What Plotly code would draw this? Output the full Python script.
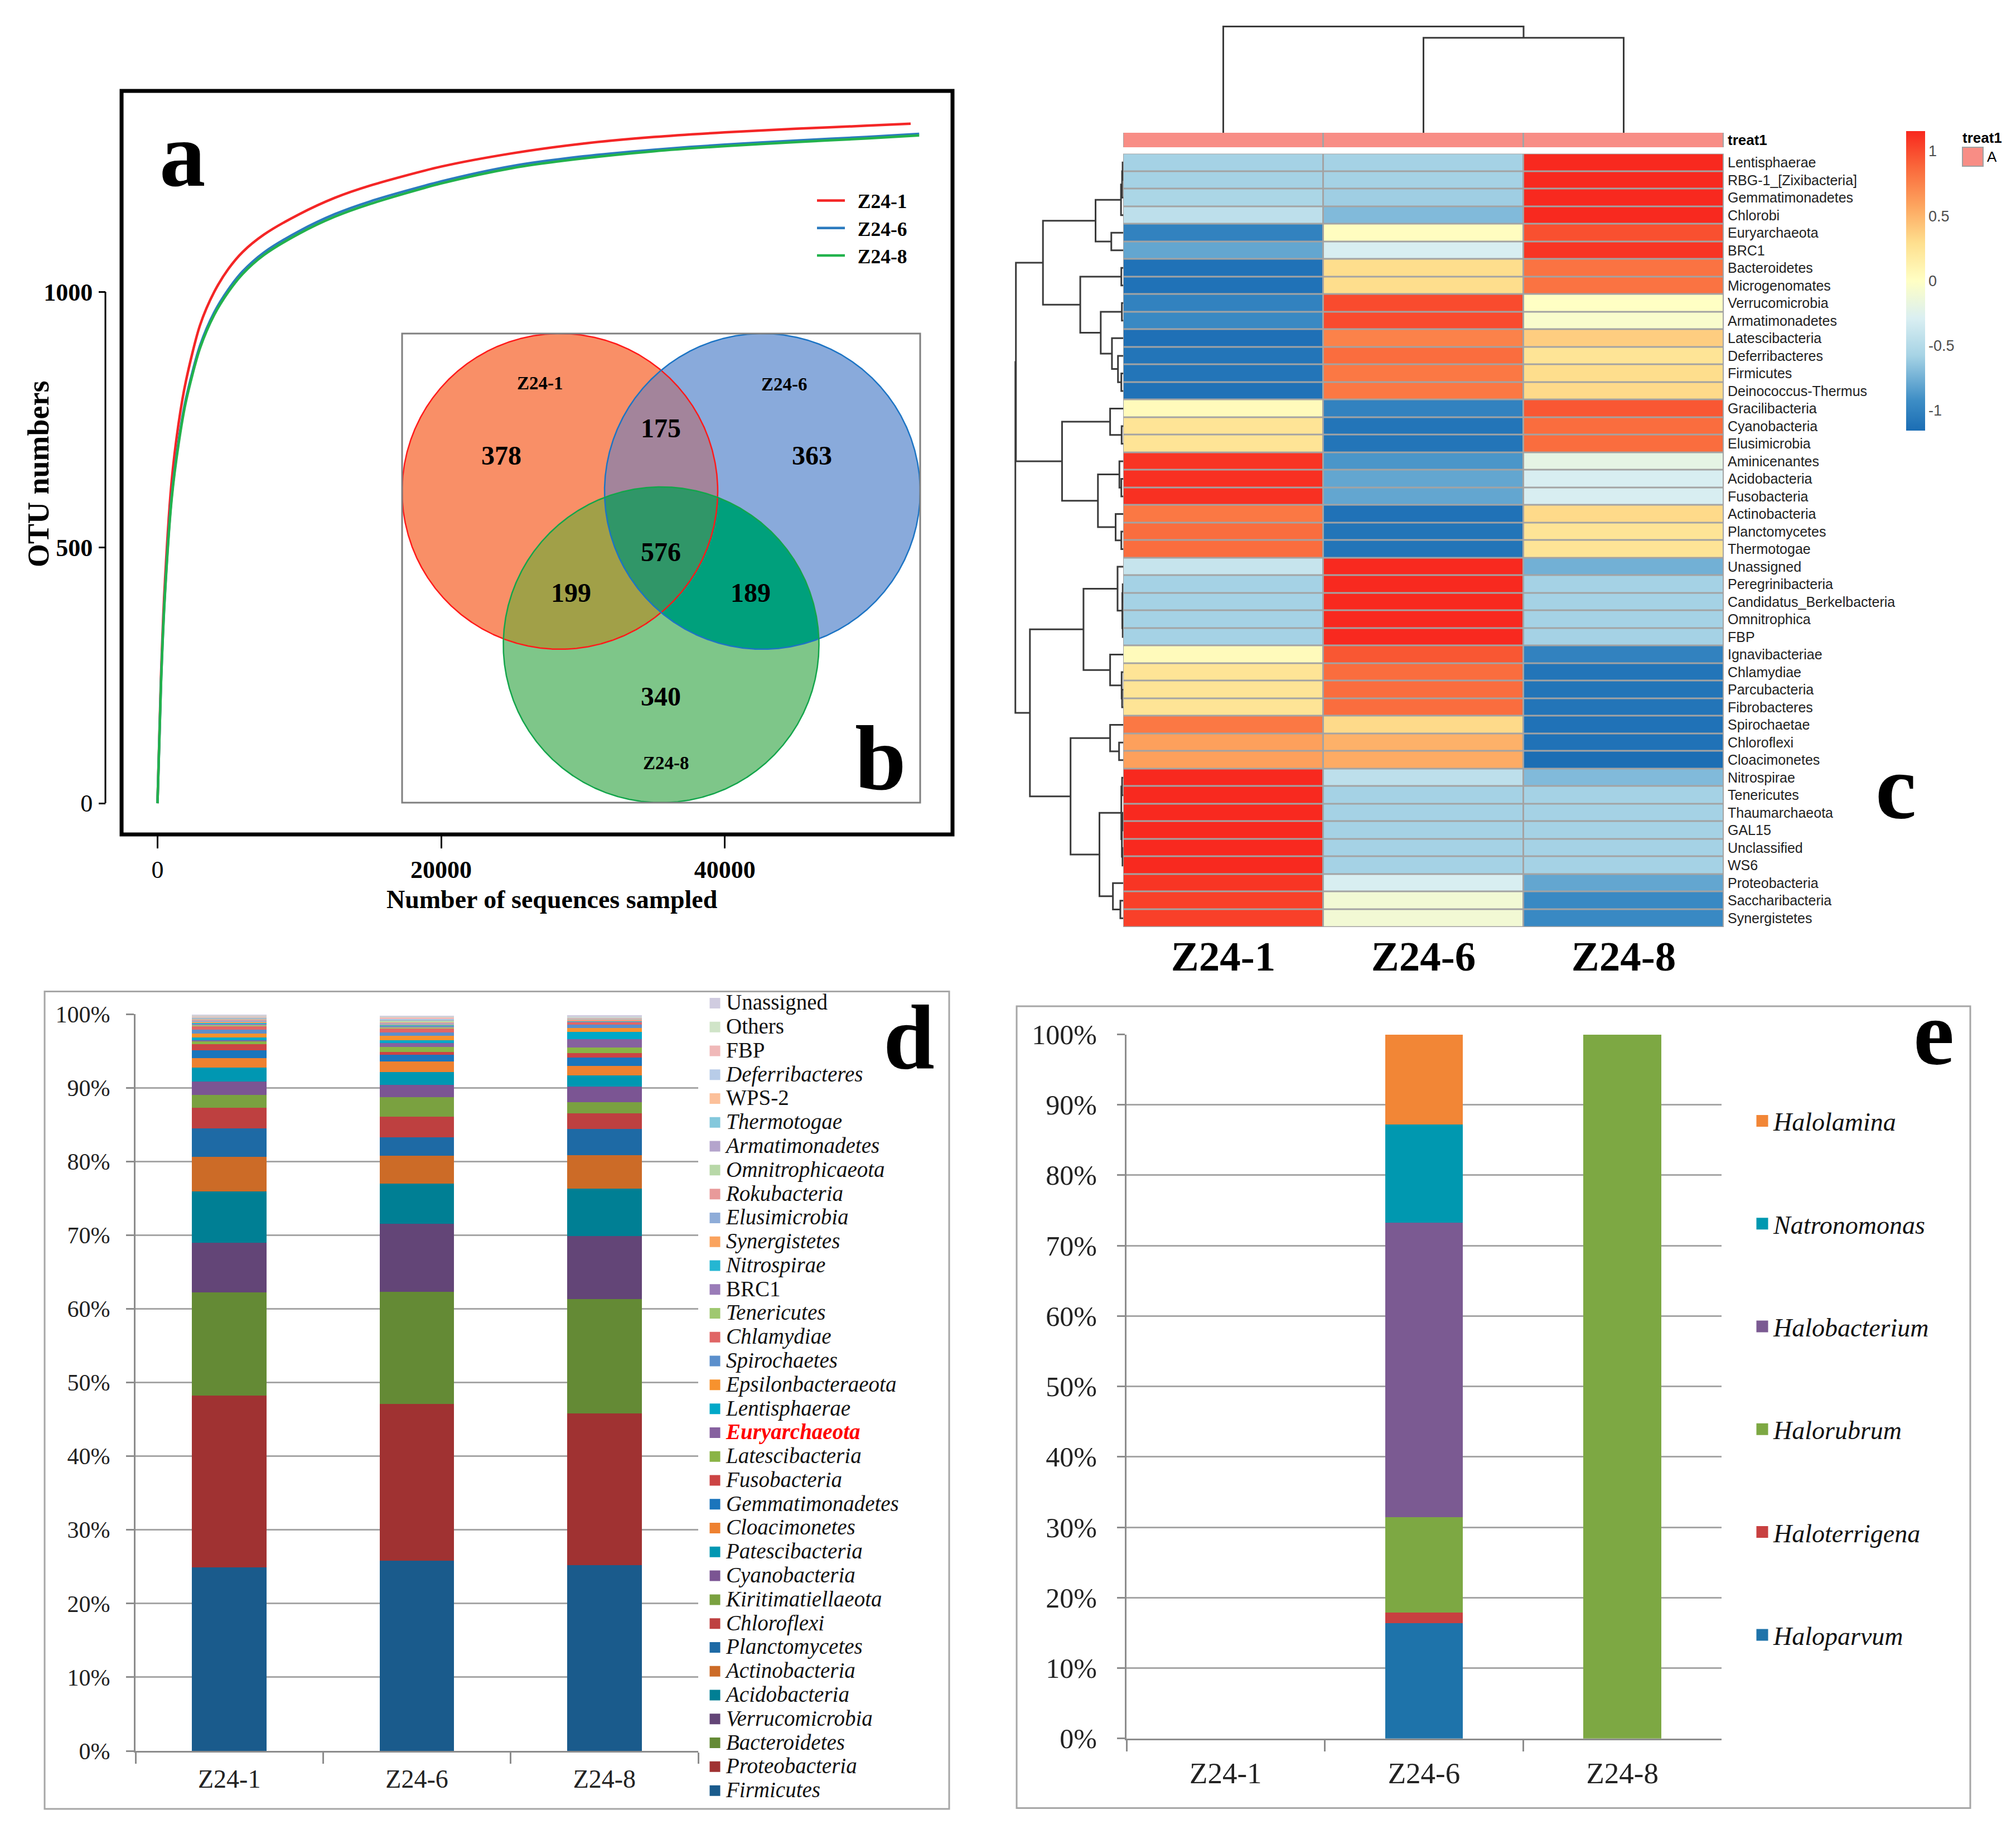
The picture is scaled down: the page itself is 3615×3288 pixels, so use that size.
import numpy as np
import plotly.graph_objects as go

W, H = 3615, 3288
def fx(x): return x / W
def fy(y): return 1 - y / H

SERIF = "Liberation Serif, Times New Roman, serif"
SANS = "Liberation Sans, Arial, sans-serif"

samples = ["Z24-1", "Z24-6", "Z24-8"]

# ---------------- (a) rarefaction curves ----------------
rare_depth_z24_1 = [0, 250, 500, 1000, 1500, 2000, 3000, 4000, 5000, 6000, 7500, 10000, 12500, 15000, 20000, 25000, 30000, 35000, 40000, 45000, 50000, 53100]
rare_otu_z24_1 = [0, 250, 420, 630, 745, 825, 935, 1000, 1045, 1078, 1112, 1152, 1184, 1208, 1245, 1271, 1290, 1303, 1312, 1319, 1325, 1329]
rare_depth_z24_6 = [0, 250, 500, 1000, 1500, 2000, 3000, 4000, 5000, 6000, 7500, 10000, 12500, 15000, 20000, 25000, 30000, 35000, 40000, 45000, 50000, 53700]
rare_otu_z24_6 = [0, 238, 399, 600, 710, 790, 895, 960, 1005, 1040, 1077, 1119, 1152, 1177, 1216, 1246, 1265, 1278, 1288, 1296, 1303, 1309]
rare_depth_z24_8 = [0, 250, 500, 1000, 1500, 2000, 3000, 4000, 5000, 6000, 7500, 10000, 12500, 15000, 20000, 25000, 30000, 35000, 40000, 45000, 50000, 53700]
rare_otu_z24_8 = [0, 235, 395, 595, 705, 785, 890, 955, 1000, 1035, 1072, 1114, 1147, 1172, 1212, 1242, 1261, 1275, 1285, 1293, 1300, 1306]
rare_colors = ["#F42626", "#2B7BBF", "#22B24C"]

# ---------------- (b) Venn counts ----------------
venn_only = {"Z24-1": 378, "Z24-6": 363, "Z24-8": 340}
venn_pair = {"Z24-1&Z24-6": 175, "Z24-1&Z24-8": 199, "Z24-6&Z24-8": 189}
venn_all = 576

# ---------------- (c) heatmap (row z-scores) ----------------
heat_rows = ["Lentisphaerae", "RBG-1_[Zixibacteria]", "Gemmatimonadetes", "Chlorobi", "Euryarchaeota", "BRC1",
             "Bacteroidetes", "Microgenomates", "Verrucomicrobia", "Armatimonadetes", "Latescibacteria",
             "Deferribacteres", "Firmicutes", "Deinococcus-Thermus", "Gracilibacteria", "Cyanobacteria",
             "Elusimicrobia", "Aminicenantes", "Acidobacteria", "Fusobacteria", "Actinobacteria", "Planctomycetes",
             "Thermotogae", "Unassigned", "Peregrinibacteria", "Candidatus_Berkelbacteria", "Omnitrophica", "FBP",
             "Ignavibacteriae", "Chlamydiae", "Parcubacteria", "Fibrobacteres", "Spirochaetae", "Chloroflexi",
             "Cloacimonetes", "Nitrospirae", "Tenericutes", "Thaumarchaeota", "GAL15", "Unclassified", "WS6",
             "Proteobacteria", "Saccharibacteria", "Synergistetes"]
heat_z24_1 = [-0.58, -0.58, -0.55, -0.45, -1.0, -0.8, -1.12, -1.12, -1.0, -0.95, -1.13, -1.1, -1.1, -1.12,
              0.05, 0.25, 0.25, 1.1, 1.12, 1.12, 0.8, 0.85, 0.85, -0.4, -0.58, -0.58, -0.58, -0.58,
              0.05, 0.25, 0.25, 0.25, 0.8, 0.6, 0.6, 1.15, 1.15, 1.15, 1.15, 1.15, 1.15, 1.1, 1.05, 1.05]
heat_z24_6 = [-0.58, -0.58, -0.6, -0.7, 0.02, -0.3, 0.3, 0.3, 1.0, 1.0, 0.75, 0.85, 0.8, 0.8,
              -1.0, -1.1, -1.1, -0.88, -0.8, -0.8, -1.12, -1.1, -1.1, 1.15, 1.15, 1.15, 1.15, 1.15,
              0.95, 0.85, 0.85, 0.85, 0.32, 0.52, 0.55, -0.45, -0.58, -0.58, -0.58, -0.58, -0.58, -0.3, -0.1, -0.1]
heat_z24_8 = [1.15, 1.15, 1.15, 1.15, 0.98, 1.1, 0.82, 0.82, 0.0, -0.05, 0.38, 0.25, 0.3, 0.32,
              0.95, 0.85, 0.85, -0.2, -0.3, -0.3, 0.32, 0.25, 0.25, -0.75, -0.58, -0.58, -0.58, -0.58,
              -1.0, -1.1, -1.1, -1.1, -1.12, -1.12, -1.15, -0.7, -0.58, -0.58, -0.58, -0.58, -0.58, -0.8, -0.95, -0.95]
# clustering trees: (height, left, right); leaves = row / column index
row_tree = (1.0,
            (0.995,
             (0.744,
              (0.256, (0.02, (0.01, (0.005, 0, 1), 2), 3), (0.11, 4, 5)),
              (0.398, (0.017, 6, 7),
               (0.208, (0.012, 8, 9), (0.104, 10, (0.048, 11, (0.017, 12, 13)))))),
             (0.567,
              (0.121, 14, (0.014, 15, 16)),
              (0.234, (0.035, 17, (0.017, 18, 19)), (0.07, 20, (0.017, 21, 22))))),
            (0.865,
             (0.368,
              (0.052, 23, (0.008, (0.004, 24, 25), (0.004, 26, 27))),
              (0.121, 28, (0.014, 29, (0.01, 30, 31)))),
             (0.488,
              (0.121, 32, (0.038, 33, 34)),
              (0.22, (0.017, (0.01, 35, 36), (0.012, (0.006, 37, 38), (0.006, 39, 40))),
               (0.095, 41, (0.026, 42, 43))))))
col_tree = (1.0, 0, (0.894, 1, 2))
heat_colorscale = [[0.0, "#1B6DB4"], [0.1, "#3D8DC5"], [0.25, "#A6D3E5"], [0.375, "#DAEFF2"],
                   [0.5, "#FFFFC4"], [0.625, "#FEE08F"], [0.75, "#FDA55F"], [0.875, "#FA6A3C"], [1.0, "#F8281E"]]
cbar_ticks = [-1, -0.5, 0, 0.5, 1]

# ---------------- (d) phylum composition (%) ----------------
phyla = ["Firmicutes", "Proteobacteria", "Bacteroidetes", "Verrucomicrobia", "Acidobacteria", "Actinobacteria",
         "Planctomycetes", "Chloroflexi", "Kiritimatiellaeota", "Cyanobacteria", "Patescibacteria", "Cloacimonetes",
         "Gemmatimonadetes", "Fusobacteria", "Latescibacteria", "Euryarchaeota", "Lentisphaerae",
         "Epsilonbacteraeota", "Spirochaetes", "Chlamydiae", "Tenericutes", "BRC1", "Nitrospirae", "Synergistetes",
         "Elusimicrobia", "Rokubacteria", "Omnitrophicaeota", "Armatimonadetes", "Thermotogae", "WPS-2",
         "Deferribacteres", "FBP", "Others", "Unassigned"]
phyla_colors = ["#1A5B8C", "#A03232", "#648A35", "#634577", "#007F94", "#CC6B27", "#1E6AA5", "#BE4040",
                "#7AA140", "#7B5593", "#0097B2", "#EE8130", "#1B75BC", "#CC4444", "#8AB446", "#86619F",
                "#00A8C8", "#F7922E", "#5B8FCC", "#E06666", "#9FC870", "#9A7CB8", "#25B6D2", "#FAA35E",
                "#8EACD8", "#E89A9A", "#B8D8A8", "#B4A4CC", "#84C8DC", "#FCC09A", "#B8CCE8", "#F0B8B8",
                "#D0E4C8", "#D0CCE0"]
d_z24_1 = [24.9, 23.3, 14.0, 6.8, 6.9, 4.7, 3.9, 2.8, 1.7, 1.85, 1.85, 1.3, 1.05, 0.85, 0.4, 0.15, 0.4, 0.5,
           0.55, 0.45, 0.2, 0.15, 0.15, 0.15, 0.15, 0.1, 0.1, 0.1, 0.07, 0.06, 0.06, 0.06, 0.08, 0.07]
d_z24_6 = [25.8, 21.3, 15.2, 9.2, 5.5, 3.8, 2.45, 2.8, 2.65, 1.7, 1.75, 1.42, 0.88, 0.43, 0.66, 0.51, 0.38, 0.63,
           0.44, 0.6, 0.15, 0.15, 0.1, 0.1, 0.1, 0.2, 0.2, 0.1, 0.05, 0.05, 0.05, 0.25, 0.08, 0.07]
d_z24_8 = [25.2, 20.6, 15.5, 8.6, 6.4, 4.54, 3.53, 2.14, 1.52, 2.14, 1.51, 1.26, 1.14, 0.63, 0.75, 1.14, 1.0, 0.5,
           0.46, 0.31, 0.06, 0.07, 0.05, 0.05, 0.05, 0.15, 0.05, 0.05, 0.05, 0.05, 0.05, 0.05, 0.05, 0.2]
upright_names = {"BRC1", "WPS-2", "FBP", "Others", "Unassigned"}

# ---------------- (e) Euryarchaeota genera (%) ----------------
genera = ["Haloparvum", "Haloterrigena", "Halorubrum", "Halobacterium", "Natronomonas", "Halolamina"]
genera_colors = ["#1E73AA", "#C84040", "#7DA843", "#7B5A92", "#0098B0", "#F28636"]
e_z24_1 = [0, 0, 0, 0, 0, 0]
e_z24_6 = [16.4, 1.5, 13.5, 41.9, 13.9, 12.8]
e_z24_8 = [0, 0, 100, 0, 0, 0]

fig = go.Figure()

# ===== panel a =====
for name, xs, ys, col in zip(samples, [rare_depth_z24_1, rare_depth_z24_6, rare_depth_z24_8],
                             [rare_otu_z24_1, rare_otu_z24_6, rare_otu_z24_8], rare_colors):
    fig.add_trace(go.Scatter(x=xs, y=ys, mode="lines", name=f"&nbsp;&nbsp;<b>{name}</b>",
                             line=dict(color=col, width=4.5, shape="spline", smoothing=0.8),
                             xaxis="x", yaxis="y", legend="legend"))

# ===== panel b (Venn) =====
VENN_R = 283
VENN_C = {"Z24-1": (1004, 881), "Z24-6": (1367, 881), "Z24-8": (1185.5, 1156)}
def circle_pts(c, n=1440):
    t = np.linspace(0, 2 * np.pi, n, endpoint=False)
    return np.c_[c[0] + VENN_R * np.cos(t), c[1] + VENN_R * np.sin(t)]
def region(keys):
    parts = []
    for k in keys:
        P = circle_pts(VENN_C[k])
        m = np.ones(len(P), bool)
        for j in keys:
            if j != k:
                c = VENN_C[j]
                m &= (P[:, 0] - c[0]) ** 2 + (P[:, 1] - c[1]) ** 2 <= VENN_R ** 2 * 1.0001
        parts.append(P[m])
    P = np.vstack(parts)
    ctr = P.mean(0)
    P = P[np.argsort(np.arctan2(P[:, 1] - ctr[1], P[:, 0] - ctr[0]))]
    return np.vstack([P, P[:1]])
venn_fill = [(["Z24-1"], "#F98F67"), (["Z24-6"], "#89AADB"), (["Z24-8"], "#7EC689"),
             (["Z24-1", "Z24-6"], "#A3849B"), (["Z24-1", "Z24-8"], "#A1A048"),
             (["Z24-6", "Z24-8"], "#00A07C"), (["Z24-1", "Z24-6", "Z24-8"], "#309668")]
for keys, col in venn_fill:
    P = region(keys)
    fig.add_trace(go.Scatter(x=P[:, 0], y=P[:, 1], mode="lines", fill="toself", fillcolor=col,
                             line=dict(width=0, color=col), showlegend=False, hoverinfo="skip",
                             xaxis="x2", yaxis="y2"))
for k, col in zip(samples, ["#FF1A1A", "#1C74C4", "#13A54B"]):
    P = circle_pts(VENN_C[k]); P = np.vstack([P, P[:1]])
    fig.add_trace(go.Scatter(x=P[:, 0], y=P[:, 1], mode="lines", line=dict(color=col, width=2.5),
                             showlegend=False, hoverinfo="skip", xaxis="x2", yaxis="y2"))

# ===== panel c (heatmap + dendrograms) =====
zmat = np.array([heat_z24_1, heat_z24_6, heat_z24_8]).T
fig.add_trace(go.Heatmap(z=zmat, x=[0, 1, 2], y=list(range(len(heat_rows))), colorscale=heat_colorscale,
                         zmin=-1.155, zmax=1.155, xgap=3, ygap=3, xaxis="x3", yaxis="y3",
                         colorbar=dict(x=fx(3418), xanchor="left", y=fy(503.5), yanchor="middle",
                                       len=537, lenmode="pixels", thickness=34, thicknessmode="pixels",
                                       tickvals=cbar_ticks, ticktext=[str(v) for v in cbar_ticks],
                                       ticks="", outlinewidth=0, xpad=0, ypad=0,
                                       tickfont=dict(family=SANS, size=27, color="#4D4D4D"))))
fig.add_trace(go.Heatmap(z=[[1, 1, 1]], x=[0, 1, 2], y=[0], colorscale=[[0, "#F88D85"], [1, "#F88D85"]],
                         showscale=False, xgap=3, ygap=0, xaxis="x4", yaxis="y4", hoverinfo="skip"))

def dendro(node, xs, ys, horizontal):
    if isinstance(node, int):
        return float(node), 0.0
    h, left, right = node
    p1, h1 = dendro(left, xs, ys, horizontal)
    p2, h2 = dendro(right, xs, ys, horizontal)
    if horizontal:
        xs += [h1, h, h, h2, None]; ys += [p1, p1, p2, p2, None]
    else:
        xs += [p1, p1, p2, p2, None]; ys += [h1, h, h, h2, None]
    return (p1 + p2) / 2, h

rx, ry = [], []
dendro(row_tree, rx, ry, True)
fig.add_trace(go.Scatter(x=rx, y=ry, mode="lines", line=dict(color="#3A3A3A", width=3), showlegend=False,
                         hoverinfo="skip", cliponaxis=False, xaxis="x6", yaxis="y6"))
cx, cy = [], []
dendro(col_tree, cx, cy, False)
fig.add_trace(go.Scatter(x=cx, y=cy, mode="lines", line=dict(color="#3A3A3A", width=3), showlegend=False,
                         hoverinfo="skip", cliponaxis=False, xaxis="x5", yaxis="y5"))

# ===== panel d =====
for name, col, a1, a6, a8 in zip(phyla, phyla_colors, d_z24_1, d_z24_6, d_z24_8):
    fig.add_trace(go.Bar(x=samples, y=[a1, a6, a8], marker=dict(color=col, line=dict(width=0)),
                         width=0.398, showlegend=False, xaxis="x7", yaxis="y7"))
for name, col in zip(phyla, phyla_colors):
    if name == "Euryarchaeota":
        label = f'<span style="font-size:39px;color:#FF0000"><b><i>{name}</i></b></span>'
    elif name in upright_names:
        label = f'<span style="font-size:39px">{name}</span>'
    else:
        label = f'<span style="font-size:39px"><i>{name}</i></span>'
    fig.add_trace(go.Scatter(x=[None], y=[None], mode="markers", name=label,
                             marker=dict(symbol="square", size=16, color=col, line=dict(color=col, width=3)),
                             xaxis="x7", yaxis="y7", legend="legend2"))

# ===== panel e =====
for name, col, a1, a6, a8 in zip(genera, genera_colors, e_z24_1, e_z24_6, e_z24_8):
    fig.add_trace(go.Bar(x=samples, y=[a1, a6, a8], marker=dict(color=col, line=dict(width=0)),
                         width=0.393, showlegend=False, xaxis="x8", yaxis="y8"))
# legend entries listed top (last stacked) to bottom (first stacked)
for name, col in list(zip(genera, genera_colors))[::-1]:
    fig.add_trace(go.Scatter(x=[None], y=[None], mode="markers", name=f"<i>{name}</i>", legendgroup=name,
                             marker=dict(symbol="square", size=16, color=col, line=dict(color=col, width=5)),
                             xaxis="x8", yaxis="y8", legend="legend3"))

# ===== axes =====
def hid(**kw):
    d = dict(visible=False, showgrid=False, zeroline=False, fixedrange=True)
    d.update(kw)
    return d

excel_x = dict(type="category", showline=True, linecolor="#8C8C8C", linewidth=3, ticks="outside",
               tickson="boundaries", ticklen=20, tickwidth=3, tickcolor="#8C8C8C", showgrid=False,
               zeroline=False, range=[-0.5, 2.5], categoryorder="array", categoryarray=samples)
excel_y = dict(range=[0, 100], dtick=10, ticksuffix="%", showline=True, linecolor="#8C8C8C", linewidth=3,
               ticks="outside", ticklen=14, tickwidth=3, tickcolor="#8C8C8C", showgrid=True,
               gridcolor="#A6A6A6", gridwidth=3, zeroline=False)

HX = [fx(2014), fx(3091)]
HY = [fy(1662), fy(275.5)]
fig.update_layout(
    width=W, height=H, margin=dict(l=0, r=0, t=0, b=0, autoexpand=False),
    paper_bgcolor="white", plot_bgcolor="white", barmode="stack",
    xaxis=dict(domain=[fx(218), fx(1708)], range=[-2532, 56050], anchor="y", showgrid=False, zeroline=False,
               showline=False, ticks="outside", ticklen=24, tickwidth=3, tickcolor="black",
               tickvals=[0, 20000, 40000], ticktext=["0", "<b>20000</b>", "<b>40000</b>"],
               tickfont=dict(family=SERIF, size=44, color="black"), ticklabelstandoff=0),
    yaxis=dict(domain=[fy(1496), fy(163)], range=[-61, 1393], anchor="free", position=fx(189),
               showgrid=False, zeroline=False, showline=False, ticks="outside", ticklen=12, tickwidth=3,
               tickcolor="black", tickvals=[0, 500, 1000], ticktext=["0", "<b>500</b>", "<b>1000</b>"],
               tickfont=dict(family=SERIF, size=44, color="black"), ticklabelstandoff=2),
    xaxis2=hid(domain=[fx(721), fx(1650)], range=[721, 1650], anchor="y2"),
    yaxis2=hid(domain=[fy(1439), fy(598)], range=[1439, 598], anchor="x2"),
    xaxis3=dict(domain=HX, range=[-0.5, 2.5], anchor="y3", tickvals=[0, 1, 2],
                ticktext=[f"<b>{s}</b>" for s in samples], ticks="", showgrid=False, zeroline=False,
                showline=False, tickfont=dict(family=SERIF, size=75, color="black"), ticklabelstandoff=2),
    yaxis3=dict(domain=HY, range=[len(heat_rows) - 0.5, -0.5], anchor="x3", side="right",
                tickvals=list(range(len(heat_rows))), ticktext=heat_rows, ticks="", showgrid=False,
                zeroline=False, showline=False, tickfont=dict(family=SANS, size=25, color="#222222"),
                ticklabelstandoff=6),
    xaxis4=hid(domain=HX, range=[-0.5, 2.5], anchor="y4"),
    yaxis4=dict(domain=[fy(264), fy(238)], range=[-0.5, 0.5], anchor="x4", side="right", tickvals=[0],
                ticktext=["<b>treat1</b>"], ticks="", showgrid=False, zeroline=False, showline=False,
                tickfont=dict(family=SANS, size=26, color="black"), ticklabelstandoff=6),
    xaxis5=hid(domain=HX, range=[-0.5, 2.5], anchor="y5"),
    yaxis5=hid(domain=[fy(238), fy(44)], range=[0, 1.019], anchor="x5"),
    xaxis6=hid(domain=[fx(1818), fx(2014)], range=[1.014, 0], anchor="y6"),
    yaxis6=hid(domain=HY, range=[len(heat_rows) - 0.5, -0.5], anchor="x6"),
    xaxis7=dict(excel_x, domain=[fx(243), fx(1252)], anchor="y7",
                tickfont=dict(family=SERIF, size=46, color="#222222"), ticklabelstandoff=8),
    yaxis7=dict(excel_y, domain=[fy(3139), fy(1818)], anchor="x7",
                tickfont=dict(family=SERIF, size=42, color="#222222"), ticklabelstandoff=20),
    xaxis8=dict(excel_x, domain=[fx(2020), fx(3087)], anchor="y8",
                tickfont=dict(family=SERIF, size=53, color="#222222"), ticklabelstandoff=14),
    yaxis8=dict(excel_y, domain=[fy(3116.7), fy(1854.5)], anchor="x8",
                tickfont=dict(family=SERIF, size=50, color="#222222"), ticklabelstandoff=26),
    legend=dict(x=fx(1460), y=fy(330), xanchor="left", yanchor="top", bgcolor="rgba(0,0,0,0)",
                font=dict(family=SERIF, size=35.5, color="black"), itemwidth=50, traceorder="normal"),
    legend2=dict(x=fx(1262), y=fy(1772), xanchor="left", yanchor="top", bgcolor="rgba(0,0,0,0)",
                 font=dict(family=SERIF, size=30.6, color="#111111"), traceorder="reversed", itemwidth=30),
    legend3=dict(x=fx(3140), y=fy(1973), xanchor="left", yanchor="top", bgcolor="rgba(0,0,0,0)",
                 font=dict(family=SERIF, size=46, color="#111111"), traceorder="grouped",
                 tracegroupgap=121.5, itemwidth=30),
)

# ===== frames, boxes =====
shapes = [
    dict(type="rect", xref="paper", yref="paper", x0=fx(218), x1=fx(1708), y0=fy(1496), y1=fy(163),
         line=dict(color="black", width=7)),
    dict(type="line", xref="paper", yref="y", x0=fx(189), x1=fx(189), y0=0, y1=1000,
         line=dict(color="black", width=3)),
    dict(type="rect", xref="paper", yref="paper", x0=fx(721), x1=fx(1650), y0=fy(1439), y1=fy(598),
         line=dict(color="#7F7F7F", width=3)),
    dict(type="rect", xref="paper", yref="paper", x0=HX[0], x1=HX[1], y0=HY[0], y1=HY[1], layer="below",
         fillcolor="#A3A3A3", line=dict(width=0)),
    dict(type="rect", xref="paper", yref="paper", x0=HX[0], x1=HX[1], y0=fy(264), y1=fy(238), layer="below",
         fillcolor="#A3A3A3", line=dict(width=0)),
    dict(type="rect", xref="paper", yref="paper", x0=fx(80), x1=fx(1702), y0=fy(3243), y1=fy(1777.5),
         line=dict(color="#A6A6A6", width=3)),
    dict(type="rect", xref="paper", yref="paper", x0=fx(1823), x1=fx(3533), y0=fy(3241.5), y1=fy(1804),
         line=dict(color="#A6A6A6", width=3)),
    dict(type="rect", xref="paper", yref="paper", x0=fx(3519), x1=fx(3556), y0=fy(298), y1=fy(264),
         fillcolor="#F88D85", line=dict(color="#A0A0A0", width=2)),
]
fig.update_layout(shapes=shapes)

ann = []
def A(text, x, y, size, family=SERIF, color="black", xanchor="center", yanchor="middle", angle=0, **kw):
    d = dict(text=text, x=x, y=y, xref=kw.pop("xref", "paper"), yref=kw.pop("yref", "paper"),
             showarrow=False, xanchor=xanchor, yanchor=yanchor, textangle=angle,
             font=dict(family=family, size=size, color=color))
    d.update(kw)
    ann.append(d)

# panel letters
A("<b>a</b>", fx(327), fy(278), 165)
A("<b>b</b>", fx(1579), fy(1360), 165)
A("<b>c</b>", fx(3399), fy(1411), 165)
A("<b>d</b>", fx(1630), fy(1860), 165)
A("<b>e</b>", fx(3467), fy(1851), 165)
# axis titles of panel a
A("<b>OTU numbers</b>", fx(69), fy(850), 54, angle=-90)
A("<b>Number of sequences sampled</b>", fx(990), fy(1612), 46)
# Venn texts (placed in the Venn schematic's own frame)
venn_label_pos = {"Z24-1": (968, 687), "Z24-6": (1406, 689), "Z24-8": (1194, 1368)}
for k, (x, y) in venn_label_pos.items():
    A(f"<b>{k}</b>", x, y, 33, xref="x2", yref="y2")
venn_num_pos = [((899, 817), venn_only["Z24-1"]), ((1456, 817), venn_only["Z24-6"]),
                ((1185, 1248), venn_only["Z24-8"]), ((1185, 768), venn_pair["Z24-1&Z24-6"]),
                ((1024, 1062), venn_pair["Z24-1&Z24-8"]), ((1346, 1062), venn_pair["Z24-6&Z24-8"]),
                ((1185, 990), venn_all)]
for (x, y), v in venn_num_pos:
    A(f"<b>{v}</b>", x, y, 48, xref="x2", yref="y2")
# treat1 annotation legend
A("<b>treat1</b>", fx(3517), fy(247), 26, family=SANS, xanchor="left")
A("A", fx(3561), fy(281), 26, family=SANS, xanchor="left")
fig.update_layout(annotations=ann)

fig.write_html("out.html", config={"displayModeBar": False},
               post_script="document.body.style.margin='0';")
